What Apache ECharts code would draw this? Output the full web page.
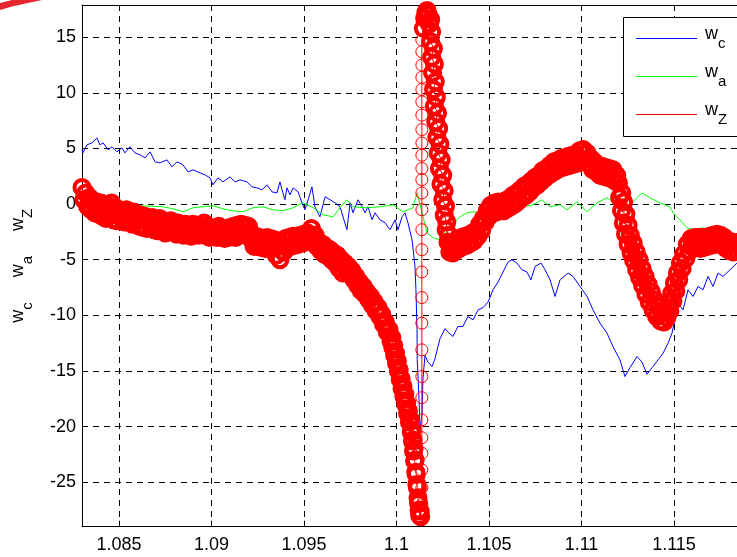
<!DOCTYPE html>
<html>
<head>
<meta charset="utf-8">
<script src="https://cdn.jsdelivr.net/npm/echarts@6/dist/echarts.min.js"></script>
<style>html,body{margin:0;padding:0;background:#fff;}#c{width:737px;height:557px;}</style>
</head>
<body>
<div id="c"></div>
<script>
// ---------- data ----------
const xTickLabels = ['1.085','1.09','1.095','1.1','1.105','1.11','1.115'];
const yTickLabels = ['-25','-20','-15','-10','-5','0','5','10','15'];
const seriesNames = ['w_c','w_a','w_Z'];

const wcPoints = [
[1.08300,4.88],[1.08305,4.61],[1.08327,5.33],[1.08354,5.51],[1.08381,5.95],[1.08397,5.33],[1.08414,5.51],[1.08441,4.88],[1.08462,5.15],[1.08489,4.70],
[1.08516,5.06],[1.08532,4.61],[1.08559,5.15],[1.08586,4.61],[1.08614,4.43],[1.08641,4.16],[1.08668,4.70],[1.08695,3.80],[1.08722,3.71],[1.08759,3.98],
[1.08786,3.35],[1.08814,3.80],[1.08846,3.53],[1.08873,2.90],[1.08900,3.08],[1.08938,2.81],[1.08965,2.63],[1.08992,2.36],[1.09008,1.73],[1.09035,2.36],
[1.09062,2.00],[1.09100,2.45],[1.09127,2.00],[1.09154,2.18],[1.09192,2.00],[1.09219,1.55],[1.09246,1.46],[1.09273,1.28],[1.09300,1.73],[1.09327,1.10],
[1.09354,1.01],[1.09370,2.00],[1.09386,1.01],[1.09397,0.39],[1.09408,1.46],[1.09424,0.84],[1.09441,1.46],[1.09468,1.10],[1.09489,0.12],[1.09505,-0.51],
[1.09522,0.39],[1.09543,1.55],[1.09559,-0.24],[1.09586,-1.14],[1.09614,0.66],[1.09641,0.39],[1.09668,0.12],[1.09695,-0.24],[1.09711,-1.14],[1.09732,-2.31],
[1.09749,0.12],[1.09765,-0.78],[1.09792,0.39],[1.09814,-0.24],[1.09830,-0.78],[1.09846,-0.24],[1.09868,-1.41],[1.09884,-0.78],[1.09911,-1.41],[1.09938,-1.68],
[1.09965,-2.31],[1.09992,-1.41],[1.10008,-2.31],[1.10030,-1.14],[1.10046,-0.78],[1.10062,-1.68],[1.10084,-3.20],[1.10100,-5.63],[1.10105,-7.69],[1.10111,-11.28],
[1.10112,-13.97],[1.10122,-17.6],[1.10127,-20.3],[1.10138,-18.9],[1.10143,-15.7],[1.10154,-13.6],[1.10170,-14.2],[1.10192,-14.6],[1.10208,-13.9],[1.10235,-12.1],
[1.10262,-11.2],[1.10278,-11.5],[1.10305,-11.9],[1.10332,-11.0],[1.10359,-11.0],[1.10386,-10.1],[1.10414,-10.4],[1.10441,-9.5],[1.10468,-9.3],[1.10495,-8.8],
[1.10522,-7.7],[1.10549,-7.0],[1.10576,-6.1],[1.10603,-5.2],[1.10624,-5.0],[1.10651,-5.3],[1.10678,-5.9],[1.10705,-6.1],[1.10727,-6.8],[1.10749,-5.6],
[1.10781,-5.3],[1.10803,-5.9],[1.10830,-6.8],[1.10857,-8.3],[1.10884,-6.8],[1.10927,-6.2],[1.10954,-6.5],[1.10992,-7.4],[1.11030,-8.3],[1.11062,-9.5],
[1.11100,-10.7],[1.11138,-11.6],[1.11170,-12.8],[1.11208,-14.0],[1.11235,-15.5],[1.11262,-14.7],[1.11300,-13.7],[1.11327,-14.2],[1.11354,-15.3],[1.11386,-14.6],
[1.11414,-14.0],[1.11441,-13.4],[1.11468,-12.5],[1.11489,-11.6],[1.11505,-10.4],[1.11522,-8.9],[1.11549,-9.5],[1.11576,-7.7],[1.11603,-8.3],[1.11630,-7.4],
[1.11657,-7.7],[1.11684,-6.5],[1.11711,-7.4],[1.11738,-6.2],[1.11765,-6.5],[1.11803,-5.9],[1.11840,-5.3],[1.11884,-4.8]
];

const waPoints = [
[1.08300,-0.15],[1.08397,-0.06],[1.08505,-0.24],[1.08614,-0.15],[1.08738,-0.24],[1.08792,-0.42],[1.08846,-0.69],[1.08900,-0.33],[1.08954,-0.24],[1.09008,-0.15],
[1.09062,-0.42],[1.09116,-0.60],[1.09170,-0.69],[1.09224,-0.33],[1.09278,-0.24],[1.09332,-0.51],[1.09386,-0.60],[1.09441,-0.33],[1.09495,0.12],[1.09549,-0.33],
[1.09603,-0.96],[1.09657,-1.14],[1.09695,-0.33],[1.09732,0.39],[1.09765,-0.24],[1.09841,-0.33],[1.09911,-0.24],[1.09981,-0.06],[1.10035,-0.69],[1.10089,-0.33],
[1.10111,1.01],[1.10138,-0.78],[1.10165,-2.58],[1.10197,-3.03],[1.10235,-3.20],[1.10289,-2.04],[1.10343,-1.14],[1.10381,-0.78],[1.10414,-0.69],[1.10451,-0.78],
[1.10505,-0.51],[1.10586,-0.33],[1.10684,-0.24],[1.10738,-0.06],[1.10786,0.39],[1.10830,-0.24],[1.10884,-0.06],[1.10922,-0.51],[1.10976,0.21],[1.11030,-0.69],
[1.11084,0.12],[1.11138,0.57],[1.11192,-0.06],[1.11246,-0.51],[1.11278,0.21],[1.11327,1.01],[1.11370,0.57],[1.11424,0.12],[1.11478,-0.24],[1.11495,-0.78],
[1.11532,-1.41],[1.11570,-2.13],[1.11603,-2.31],[1.11651,-2.13],[1.11711,-2.31],[1.11765,-2.49],[1.11840,-2.94],[1.11884,-3.2]
];

const wzPoints = [
[1.08300,1.5],[1.08310,0.4],[1.08320,1.0],[1.08330,-0.2],[1.08340,0.6],[1.08350,-0.5],[1.08360,0.3],[1.08370,-0.8],[1.08380,0.2],[1.08390,-0.9],
[1.08400,0.1],[1.08410,-1.1],[1.08420,0.0],[1.08430,-1.3],[1.08440,-0.2],[1.08450,-1.0],[1.08460,0.1],[1.08470,-1.4],[1.08480,-0.3],[1.08490,-1.5],
[1.08500,-0.5],[1.08510,-1.2],[1.08520,-0.6],[1.08530,-1.6],[1.08540,-0.5],[1.08550,-1.4],[1.08560,-0.8],[1.08570,-1.8],[1.08580,-0.7],[1.08590,-1.6],
[1.08600,-1.0],[1.08610,-2.0],[1.08620,-1.0],[1.08630,-2.1],[1.08640,-1.1],[1.08650,-2.2],[1.08660,-1.3],[1.08670,-2.0],[1.08680,-1.2],[1.08690,-2.3],
[1.08700,-1.4],[1.08710,-2.4],[1.08720,-1.3],[1.08730,-2.2],[1.08740,-1.5],[1.08750,-2.6],[1.08760,-1.6],[1.08770,-2.4],[1.08780,-1.5],[1.08790,-2.5],
[1.08800,-1.8],[1.08810,-2.7],[1.08820,-1.7],[1.08830,-2.6],[1.08840,-1.9],[1.08850,-2.8],[1.08860,-1.8],[1.08870,-2.7],[1.08880,-2.0],[1.08890,-2.9],
[1.08900,-1.8],[1.08910,-2.7],[1.08920,-1.9],[1.08930,-2.8],[1.08940,-2.0],[1.08950,-2.6],[1.08960,-1.7],[1.08970,-2.8],[1.08980,-2.0],[1.08990,-3.0],
[1.09000,-2.1],[1.09010,-2.9],[1.09020,-2.2],[1.09030,-3.0],[1.09040,-2.0],[1.09050,-2.9],[1.09060,-2.3],[1.09070,-3.1],[1.09080,-2.2],[1.09090,-3.0],
[1.09100,-2.1],[1.09110,-2.9],[1.09120,-2.0],[1.09130,-3.0],[1.09140,-1.9],[1.09150,-2.8],[1.09160,-1.8],[1.09170,-2.7],[1.09180,-1.9],[1.09190,-2.6],
[1.09200,-2.0],[1.09210,-2.8],[1.09220,-3.3],[1.09230,-3.8],[1.09240,-2.9],[1.09250,-3.8],[1.09260,-3.0],[1.09270,-3.9],[1.09280,-3.1],[1.09290,-4.0],
[1.09300,-3.0],[1.09310,-3.8],[1.09320,-3.1],[1.09330,-4.0],[1.09340,-3.2],[1.09350,-4.6],[1.09360,-3.4],[1.09370,-5.0],[1.09380,-3.6],[1.09390,-4.3],
[1.09400,-3.1],[1.09410,-3.9],[1.09420,-3.0],[1.09430,-3.8],[1.09440,-2.9],[1.09450,-3.7],[1.09460,-3.0],[1.09470,-3.6],[1.09480,-2.8],[1.09490,-3.5],
[1.09500,-2.7],[1.09510,-3.4],[1.09520,-2.6],[1.09530,-3.3],[1.09540,-2.2],[1.09550,-3.2],[1.09560,-2.8],[1.09570,-3.8],[1.09580,-3.4],[1.09590,-4.2],
[1.09600,-3.6],[1.09610,-4.5],[1.09620,-3.9],[1.09630,-4.7],[1.09640,-4.1],[1.09650,-5.0],[1.09660,-4.4],[1.09670,-5.3],[1.09680,-4.6],[1.09690,-5.8],
[1.09700,-5.0],[1.09710,-6.2],[1.09720,-5.3],[1.09730,-6.0],[1.09740,-5.6],[1.09750,-6.3],[1.09760,-6.0],[1.09770,-6.8],[1.09780,-6.5],[1.09790,-7.3],
[1.09800,-7.0],[1.09810,-7.8],[1.09820,-7.4],[1.09830,-8.1],[1.09840,-7.9],[1.09850,-8.6],[1.09860,-8.3],[1.09870,-9.1],[1.09880,-8.8],[1.09890,-9.6],
[1.09900,-9.3],[1.09910,-10.1],[1.09920,-9.9],[1.09930,-10.8],[1.09940,-10.6],[1.09950,-11.5],[1.09960,-11.3],[1.09970,-12.3],[1.09975,-12.0],[1.09980,-12.9],
[1.09985,-12.7],[1.09990,-13.6],[1.09995,-13.4],[1.10000,-14.3],[1.10005,-14.1],[1.10010,-15.0],[1.10015,-14.9],[1.10020,-15.8],[1.10025,-15.7],[1.10030,-16.6],
[1.10035,-16.4],[1.10040,-17.3],[1.10045,-17.1],[1.10050,-18.0],[1.10055,-17.9],[1.10060,-18.8],[1.10065,-18.6],[1.10070,-19.6],[1.10075,-19.4],[1.10080,-20.5],
[1.10083,-20.3],[1.10086,-21.3],[1.10089,-21.2],[1.10092,-22.2],[1.10095,-22.0],[1.10098,-23.1],[1.10101,-23.0],[1.10104,-24.1],[1.10107,-24.3],[1.10110,-25.2],
[1.10113,-25.5],[1.10116,-26.4],[1.10119,-26.9],[1.10122,-27.5],[1.10125,-28.0],[1.10128,-27.6],[1.10131,-28.1],
[1.10137,-27.0],[1.10137,-25.5],[1.10137,-23.9],[1.10137,-22.4],[1.10137,-21.0],[1.10137,-19.4],[1.10137,-17.4],[1.10137,-15.5],[1.10137,-13.1],[1.10137,-10.7],
[1.10137,-8.4],[1.10137,-6.1],[1.10137,-4.1],[1.10137,-2.3],[1.10137,-0.5],[1.10137,1.0],[1.10137,2.2],[1.10137,3.2],[1.10137,4.4],[1.10137,5.5],
[1.10137,6.7],[1.10137,8.0],[1.10137,9.2],[1.10137,10.3],[1.10137,11.4],[1.10137,12.5],[1.10137,13.7],[1.10137,14.75],
[1.10145,15.8],[1.10152,16.7],[1.10158,17.2],[1.10165,17.4],[1.10172,17.0],[1.10178,16.2],[1.10185,16.6],[1.10190,15.5],
[1.10185,14.6],[1.10200,14.0],[1.10190,13.2],[1.10205,12.6],[1.10195,11.8],[1.10210,11.0],[1.10200,10.3],[1.10215,9.6],[1.10205,8.8],[1.10222,8.2],
[1.10212,7.4],[1.10228,6.8],[1.10218,6.0],[1.10235,5.4],[1.10225,4.6],[1.10242,4.0],[1.10232,3.2],[1.10250,2.6],[1.10240,1.8],[1.10258,1.2],
[1.10250,0.4],[1.10265,-0.2],[1.10258,-1.0],[1.10272,-1.6],[1.10268,-2.3],[1.10282,-2.8],[1.10278,-3.4],[1.10292,-3.6],[1.10288,-4.3],[1.10300,-4.0],
[1.10305,-4.4],
[1.10310,-3.4],[1.10320,-4.2],[1.10330,-3.2],[1.10340,-4.0],[1.10350,-3.0],[1.10360,-3.8],[1.10370,-2.9],[1.10380,-3.7],[1.10390,-2.8],[1.10400,-3.5],
[1.10410,-2.6],[1.10420,-3.3],[1.10430,-2.4],[1.10440,-2.9],[1.10450,-1.8],[1.10460,-2.4],[1.10470,-1.3],[1.10480,-1.6],[1.10490,-0.6],[1.10500,-1.1],
[1.10510,-0.1],[1.10520,-0.8],[1.10530,0.1],[1.10540,-0.7],[1.10550,0.2],[1.10560,-0.6],[1.10570,0.2],[1.10580,-0.6],[1.10590,0.3],[1.10600,-0.4],
[1.10610,0.5],[1.10620,-0.2],[1.10630,0.8],[1.10640,0.0],[1.10650,1.0],[1.10660,0.3],[1.10670,1.3],[1.10680,0.6],[1.10690,1.6],[1.10700,0.8],
[1.10710,1.8],[1.10720,1.1],[1.10730,2.1],[1.10740,1.5],[1.10750,2.4],[1.10760,1.7],[1.10770,2.6],[1.10780,2.0],[1.10790,3.0],[1.10800,2.3],
[1.10810,3.2],[1.10820,2.6],[1.10830,3.5],[1.10840,2.8],[1.10850,3.8],[1.10860,3.0],[1.10870,3.9],[1.10880,3.2],[1.10890,4.1],[1.10900,3.3],
[1.10910,4.2],[1.10920,3.4],[1.10930,4.3],[1.10940,3.5],[1.10950,4.4],[1.10960,3.6],[1.10970,4.5],[1.10980,3.7],[1.10990,4.8],[1.11000,3.9],
[1.11010,4.9],[1.11020,4.0],[1.11030,4.6],[1.11040,3.6],[1.11050,4.1],[1.11060,3.1],[1.11070,3.8],[1.11080,2.9],[1.11090,3.5],[1.11100,2.6],
[1.11110,3.4],[1.11120,2.5],[1.11130,3.3],[1.11140,2.4],[1.11150,3.2],[1.11160,2.3],[1.11170,3.1],[1.11180,2.1],[1.11190,2.6],
[1.11200,1.9],[1.11218,1.0],[1.11206,0.6],[1.11228,0.2],[1.11216,-0.6],[1.11240,-0.9],[1.11226,-1.7],[1.11252,-1.9],[1.11238,-2.7],[1.11264,-2.8],
[1.11252,-3.6],[1.11280,-3.5],[1.11268,-4.4],[1.11296,-4.3],[1.11282,-5.1],[1.11312,-5.0],[1.11298,-5.9],[1.11328,-5.8],[1.11314,-6.6],[1.11344,-6.5],
[1.11330,-7.3],[1.11360,-7.2],[1.11348,-8.1],[1.11378,-7.9],[1.11366,-8.8],[1.11396,-8.6],[1.11386,-9.5],[1.11414,-9.2],[1.11406,-10.1],[1.11430,-9.6],
[1.11428,-10.5],[1.11446,-9.8],[1.11446,-10.6],[1.11460,-9.5],[1.11462,-10.2],[1.11474,-8.8],[1.11478,-9.6],[1.11488,-8.0],[1.11494,-8.7],[1.11502,-7.1],
[1.11510,-7.8],[1.11518,-6.2],[1.11526,-6.8],[1.11534,-5.3],[1.11544,-5.8],[1.11552,-4.5],[1.11564,-4.9],[1.11572,-3.6],[1.11584,-4.2],[1.11592,-3.1],
[1.11602,-3.9],[1.11612,-3.0],
[1.11622,-3.9],[1.11632,-3.0],[1.11642,-4.0],[1.11652,-3.0],[1.11662,-3.9],[1.11672,-3.0],[1.11682,-3.8],[1.11692,-2.9],[1.11702,-3.7],[1.11712,-2.8],
[1.11722,-3.6],[1.11732,-2.7],[1.11742,-3.6],[1.11752,-2.8],[1.11762,-3.7],[1.11772,-3.0],[1.11782,-4.0],[1.11792,-3.3],[1.11802,-4.2],[1.11812,-3.4],
[1.11822,-4.3],[1.11832,-3.5],[1.11842,-4.2],[1.11852,-3.4],[1.11862,-4.0],[1.11872,-3.7],[1.11900,-3.7]
];
// frequency of the vertical jump (sparse circles)
const wzJumpFreq = 1.10137;

// ---------- chart ----------
const FONT = 'Liberation Sans, Arial, sans-serif';
const X_MIN = 1.083, X_MAX = 1.12, Y_MIN = -29, Y_MAX = 17.9;
function richStyles(padW) {
  return {
    w: { fontSize: 18, fontFamily: FONT, color: '#000', lineHeight: 18, verticalAlign: 'top', padding: [0, 0, 0, padW] },
    s: { fontSize: 15, fontFamily: FONT, color: '#000', lineHeight: 26, verticalAlign: 'bottom' }
  };
}
function sub(n) { const p = n.split('_'); return '{w|' + p[0] + '}{s|' + p[1] + '}'; }
function xFmt(v) {
  const s = String(+v.toFixed(3));
  return xTickLabels.indexOf(s) >= 0 ? s : '';
}
function yFmt(v) {
  const s = String(Math.round(v));
  return (Math.abs(v - Math.round(v)) < 1e-6 && yTickLabels.indexOf(s) >= 0) ? s : '';
}
const gridLine = { show: true, lineStyle: { color: '#000', width: 1, type: [6, 5] } };

// red markers: thin outline on the sparse jump, heavier where the band is dense
const wzData = wzPoints.map(p => p[0] === wzJumpFreq
  ? { value: p, symbolSize: 12, itemStyle: { borderWidth: 1 } }
  : { value: p });

const chart = echarts.init(document.getElementById('c'), null, { renderer: 'canvas' });
chart.setOption({
  animation: false,
  backgroundColor: '#fff',
  grid: { left: 82, right: -29.5, top: 5, bottom: 30.3, containLabel: false, outerBoundsMode: 'none' },
  xAxis: [{
    type: 'value', min: X_MIN, max: X_MAX, splitNumber: 8, position: 'bottom',
    axisLine: { show: true, onZero: false, lineStyle: { color: '#000', width: 1 } },
    axisTick: { show: true, inside: true, length: 6, lineStyle: { color: '#000' } },
    axisLabel: { formatter: xFmt, fontSize: 18, fontFamily: FONT, color: '#000', margin: 9, showMinLabel: false },
    splitLine: gridLine
  }, {
    type: 'value', min: X_MIN, max: X_MAX, splitNumber: 8, position: 'top',
    axisLine: { show: true, onZero: false, lineStyle: { color: '#000', width: 1 } },
    axisTick: { show: true, inside: true, length: 6, lineStyle: { color: '#000' } },
    axisLabel: { show: false }, splitLine: { show: false }
  }],
  yAxis: [{
    type: 'value', min: Y_MIN, max: Y_MAX, splitNumber: 9,
    axisLine: { show: true, onZero: false, lineStyle: { color: '#000', width: 1 } },
    axisTick: { show: true, inside: true, length: 6, lineStyle: { color: '#000' } },
    axisLabel: { formatter: yFmt, fontSize: 18, fontFamily: FONT, color: '#000', margin: 6 },
    splitLine: gridLine,
    name: seriesNames.map(sub).join('     '),
    nameLocation: 'middle', nameRotate: 90, nameGap: 47,
    nameTextStyle: { rich: richStyles(0), fontSize: 18, fontFamily: FONT, color: '#000' }
  }],
  legend: {
    orient: 'vertical', left: 623, top: 25.5, z: 10,
    padding: [0, 0, 0, 13], itemGap: 12,
    itemWidth: 61, itemHeight: 1, icon: 'rect',
    formatter: sub,
    textStyle: { rich: richStyles(3), fontSize: 18, fontFamily: FONT, color: '#000' },
    data: [
      { name: 'w_c', itemStyle: { color: '#0000ff', borderWidth: 0 } },
      { name: 'w_a', itemStyle: { color: '#00ff00', borderWidth: 0 } },
      { name: 'w_Z', itemStyle: { color: '#ff0000', borderWidth: 0 } }
    ],
    selectedMode: false
  },
  graphic: [{
    type: 'polygon', left: 0, top: 0, silent: true,
    shape: { points: [[0, 3], [0, 10], [14, 6], [42, 0], [12, 0]] },
    style: { fill: '#e8262f' }
  }, {
    type: 'rect', silent: true, z: 5,
    shape: { x: 623.5, y: 17.5, width: 160, height: 119 },
    style: { fill: '#fff', stroke: '#000', lineWidth: 1 }
  }],
  series: [{
    name: 'w_c', type: 'line', data: wcPoints, showSymbol: false, symbol: 'none',
    lineStyle: { color: '#0000ff', width: 1 }, itemStyle: { color: '#0000ff' }, z: 2
  }, {
    name: 'w_a', type: 'line', data: waPoints, showSymbol: false, symbol: 'none',
    lineStyle: { color: '#00ff00', width: 1 }, itemStyle: { color: '#00ff00' }, z: 3
  }, {
    name: 'w_Z', type: 'line', data: wzData, symbol: 'circle', symbolSize: 15,
    showSymbol: true, showAllSymbol: true,
    lineStyle: { color: '#ff0000', width: 1 },
    itemStyle: { color: 'rgba(255,255,255,0)', borderColor: '#ff0000', borderWidth: 4 },
    z: 4
  }]
});
</script>
</body>
</html>
